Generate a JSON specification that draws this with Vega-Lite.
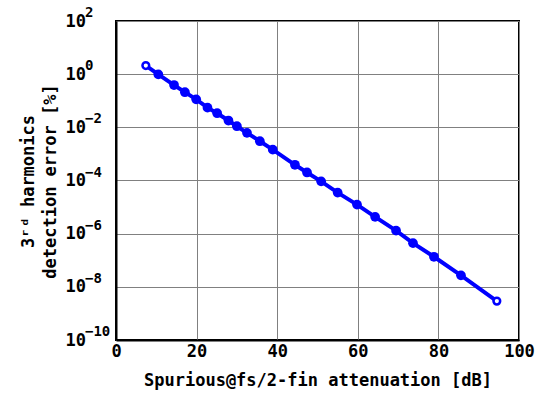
{
  "$schema": "https://vega.github.io/schema/vega-lite/v6.json",
  "width": 403,
  "height": 319,
  "autosize": "none",
  "padding": {"left": 116, "top": 21, "right": 23, "bottom": 56},
  "background": "white",
  "config": {
    "view": {"stroke": "black", "strokeWidth": 2},
    "font": "DejaVu Sans Mono"
  },
  "datasets": {
    "curve": [
      {"x": 7.4, "y": 2.1},
      {"x": 10.5, "y": 0.98},
      {"x": 14.4, "y": 0.39},
      {"x": 17.1, "y": 0.21},
      {"x": 19.9, "y": 0.113},
      {"x": 22.7, "y": 0.055},
      {"x": 25.1, "y": 0.034},
      {"x": 27.9, "y": 0.018},
      {"x": 30.0, "y": 0.011},
      {"x": 32.5, "y": 0.0062},
      {"x": 35.7, "y": 0.003},
      {"x": 38.9, "y": 0.00145},
      {"x": 44.4, "y": 0.00039},
      {"x": 47.4, "y": 0.0002},
      {"x": 50.9, "y": 0.000093},
      {"x": 55.0, "y": 0.000035},
      {"x": 59.8, "y": 0.0000124},
      {"x": 64.3, "y": 0.0000043},
      {"x": 69.5, "y": 0.0000013},
      {"x": 73.7, "y": 4.4e-7},
      {"x": 78.9, "y": 1.35e-7},
      {"x": 85.6, "y": 2.7e-8},
      {"x": 94.5, "y": 2.9e-9}
    ],
    "exponents": [
      {"v": 100, "e": "2"},
      {"v": 1, "e": "0"},
      {"v": 0.01, "e": "−2"},
      {"v": 0.0001, "e": "−4"},
      {"v": 0.000001, "e": "−6"},
      {"v": 1e-8, "e": "−8"},
      {"v": 1e-10, "e": "−10"}
    ]
  },
  "data": {"name": "curve"},
  "layer": [
    {
      "mark": {"type": "line", "color": "#0000ff", "strokeWidth": 4},
      "encoding": {
        "x": {
          "field": "x", "type": "quantitative",
          "scale": {"domain": [0, 100], "nice": false, "zero": false},
          "axis": {
            "values": [0, 20, 40, 60, 80, 100],
            "title": "Spurious@fs/2-fin attenuation [dB]",
            "titleFont": "DejaVu Sans Mono", "titleFontSize": 17, "titleFontWeight": "bold",
            "titleColor": "black", "titleBaseline": "alphabetic", "titleY": 45,
            "labelFont": "DejaVu Sans Mono", "labelFontSize": 17, "labelFontWeight": "bold",
            "labelColor": "black", "labelPadding": 3, "labelFlush": false,
            "ticks": false, "domainColor": "black", "domainWidth": 2,
            "grid": true, "gridColor": "#808080", "gridWidth": 1, "gridOpacity": 1
          }
        },
        "y": {
          "field": "y", "type": "quantitative",
          "scale": {"type": "log", "domain": [1e-10, 100], "nice": false},
          "axis": {
            "values": [100, 1, 0.01, 0.0001, 0.000001, 1e-8, 1e-10],
            "labelExpr": "'10'",
            "title": ["3ʳᵈ harmonics", "detection error [%]"],
            "titleFont": "DejaVu Sans Mono", "titleFontSize": 17, "titleFontWeight": "bold",
            "titleColor": "black", "titleBaseline": "alphabetic", "titleAngle": -90,
            "titleX": -83, "titleY": 160, "titleAlign": "center", "titleLineHeight": 22,
            "labelFont": "DejaVu Sans Mono", "labelFontSize": 17, "labelFontWeight": "bold",
            "labelColor": "black", "labelAlign": "left", "labelPadding": 51, "labelFlush": false,
            "labelOverlap": false,
            "ticks": false, "domainColor": "black", "domainWidth": 2,
            "grid": true, "gridColor": "#808080", "gridWidth": 1, "gridOpacity": 1
          }
        }
      }
    },
    {
      "transform": [{"filter": "datum.x > 8 && datum.x < 90"}],
      "mark": {"type": "point", "shape": "circle", "filled": true, "color": "#0000ff", "size": 95, "opacity": 1},
      "encoding": {
        "x": {"field": "x", "type": "quantitative"},
        "y": {"field": "y", "type": "quantitative"}
      }
    },
    {
      "transform": [{"filter": "datum.x < 8 || datum.x > 90"}],
      "mark": {"type": "point", "shape": "circle", "filled": false, "fill": "white", "color": "#0000ff", "strokeWidth": 2.5, "size": 45, "opacity": 1},
      "encoding": {
        "x": {"field": "x", "type": "quantitative"},
        "y": {"field": "y", "type": "quantitative"}
      }
    },
    {
      "data": {"name": "exponents"},
      "mark": {"type": "text", "clip": false, "align": "left", "baseline": "middle", "dx": -31, "dy": -8, "font": "DejaVu Sans Mono", "fontSize": 14, "fontWeight": "bold", "color": "black"},
      "encoding": {
        "x": {"datum": 0, "type": "quantitative"},
        "y": {"field": "v", "type": "quantitative"},
        "text": {"field": "e"}
      }
    }
  ]
}
